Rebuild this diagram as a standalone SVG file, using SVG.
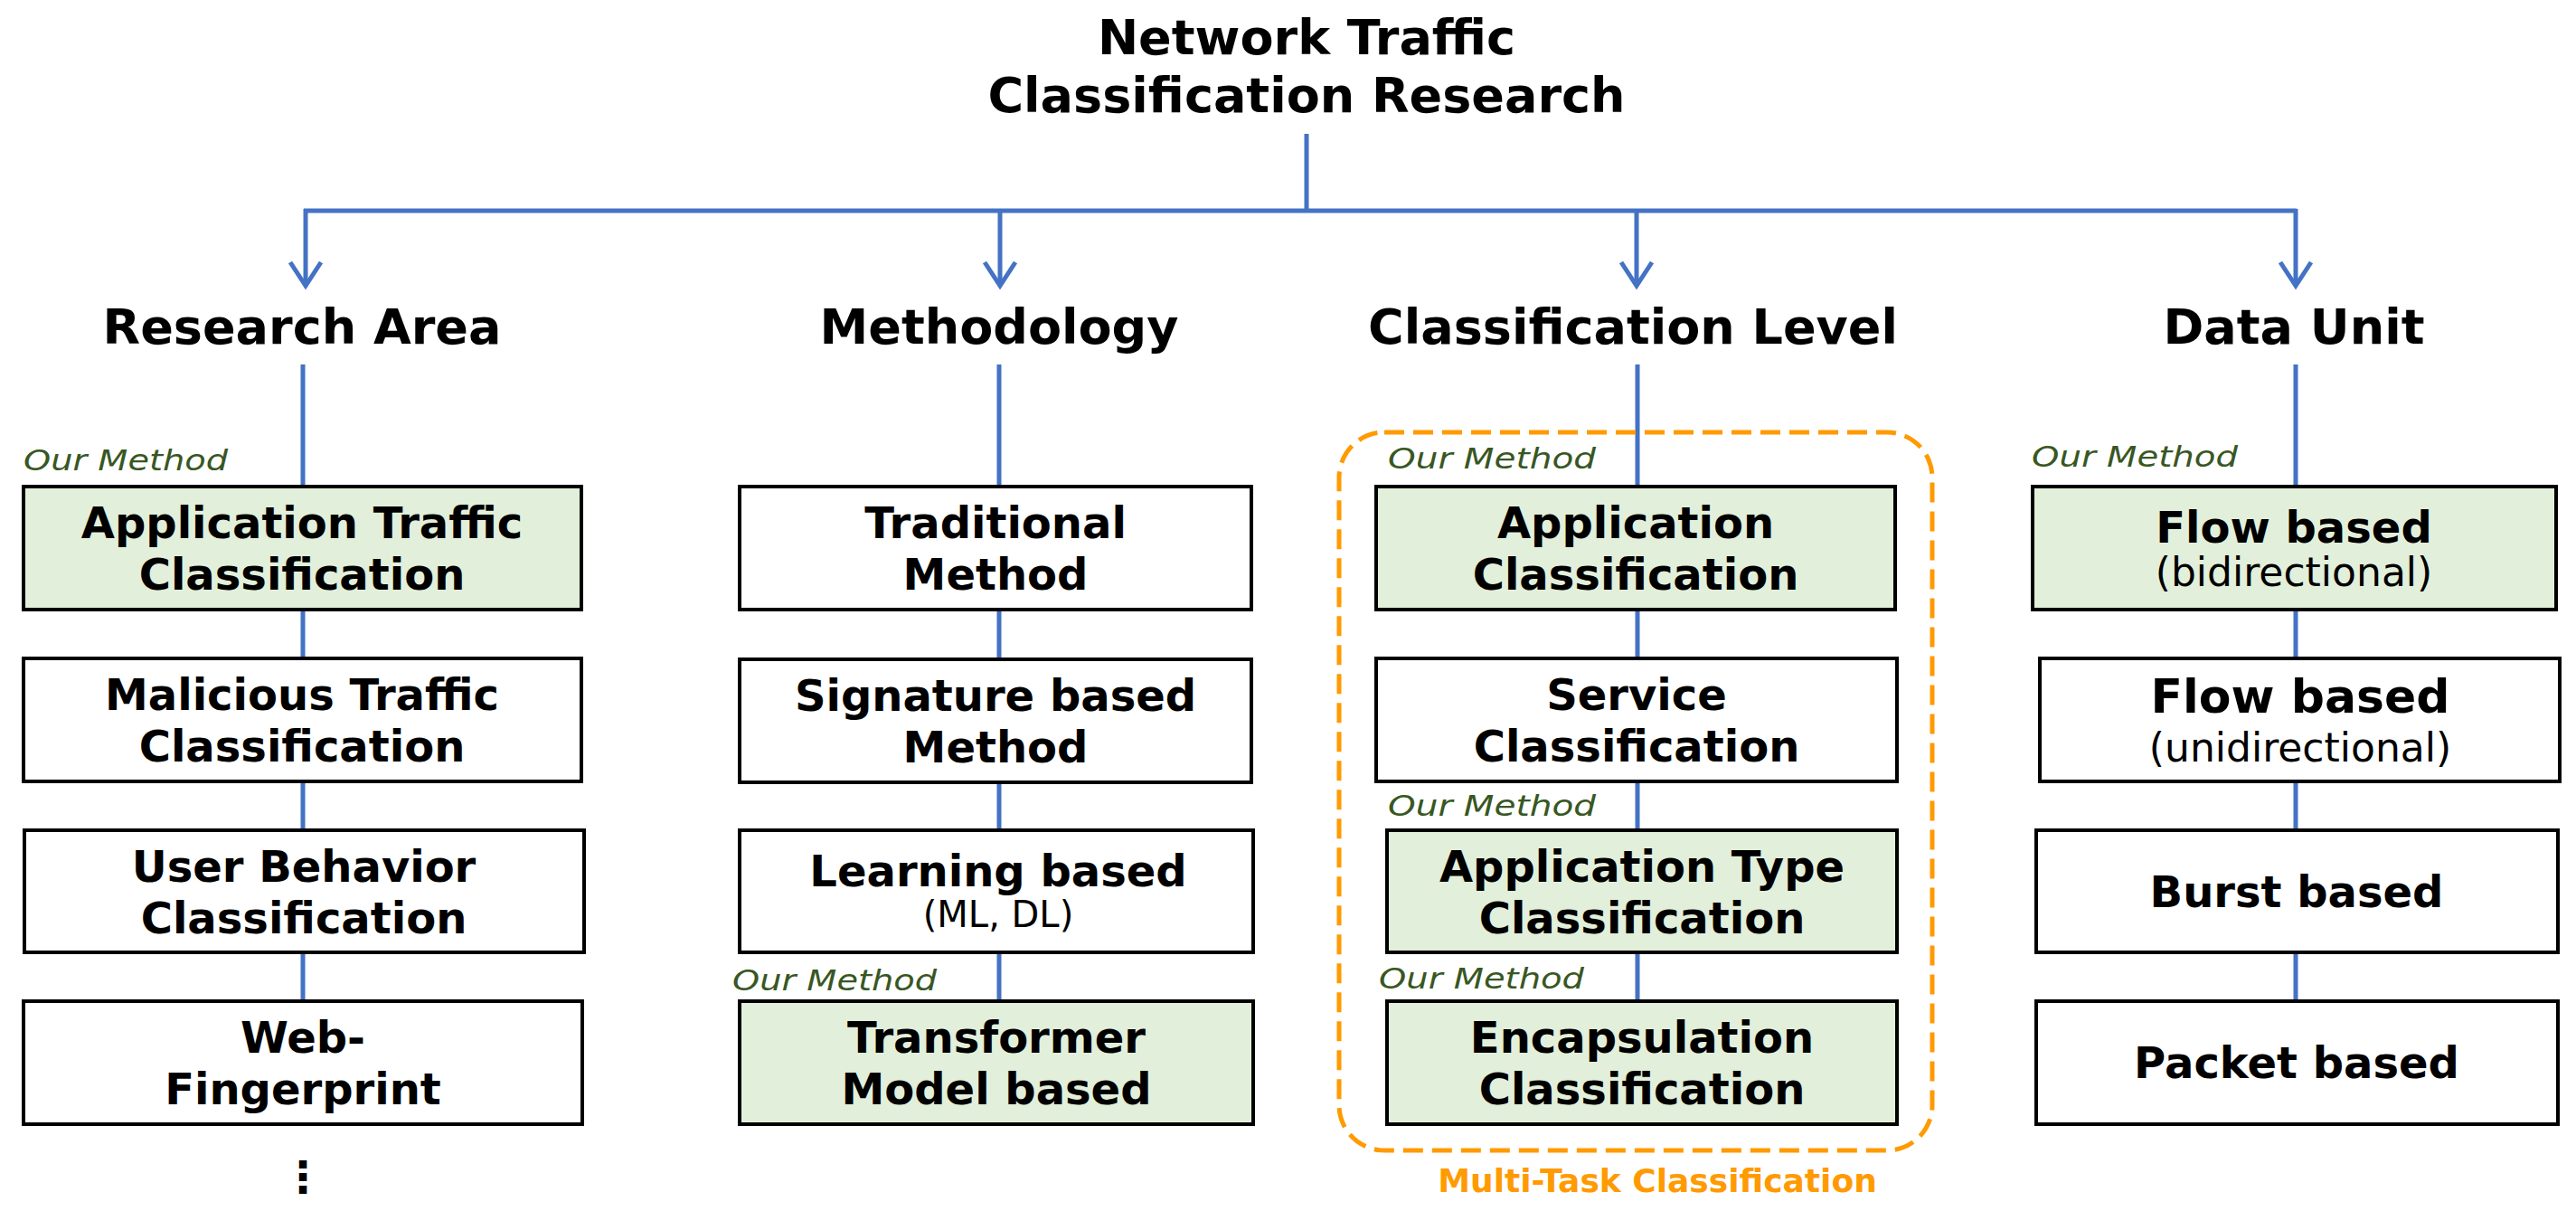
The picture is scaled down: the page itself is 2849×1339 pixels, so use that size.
<svg xmlns="http://www.w3.org/2000/svg" width="2849" height="1339" viewBox="0 0 2849 1339">
<style>
.t{font-family:"DejaVu Sans","Liberation Sans",sans-serif;font-weight:bold;fill:#000;text-anchor:middle}
.h{font-size:54px}
.b{font-size:48px}
.s{font-family:"DejaVu Sans","Liberation Sans",sans-serif;font-weight:normal;fill:#000;text-anchor:middle;font-size:44px}
.om{font-family:"DejaVu Sans","Liberation Sans",sans-serif;font-style:italic;font-size:32px;fill:#385723}
.box{fill:#fff;stroke:#000;stroke-width:4}
.g{fill:#E2EFDA}
.ln{stroke:#4472C4;stroke-width:5;fill:none}
.ah{stroke:#4472C4;stroke-width:5;fill:none;stroke-linejoin:miter;stroke-linecap:butt}
</style>
<rect width="2849" height="1339" fill="#fff"/>
<g id="title">
<text class="t h" x="1445" y="60">Network Traffic</text>
<text class="t h" x="1445" y="124">Classification Research</text>
</g>
<g id="connectors">
<path class="ln" d="M1445 148 V233 M336 233 H2540 M338 231 V314 M1106 231 V314 M1810 231 V314 M2539 231 V314"/>
<path class="ah" d="M321 290 L338 316 L355 290 M1089 290 L1106 316 L1123 290 M1793 290 L1810 316 L1827 290 M2522 290 L2539 316 L2556 290"/>
<path class="ln" d="M335 403 V1107 M1105 403 V1107 M1811 403 V1107 M2539 403 V1107"/>
</g>
<g id="header-research-area"><text class="t h" x="334" y="380">Research Area</text></g>
<g id="header-methodology"><text class="t h" x="1105" y="380">Methodology</text></g>
<g id="header-classification-level"><text class="t h" x="1806" y="380">Classification Level</text></g>
<g id="header-data-unit"><text class="t h" x="2537" y="380">Data Unit</text></g>
<g id="multitask-group">
<rect x="1481" y="478" width="656" height="794" rx="50" ry="50" fill="none" stroke="#FF9A00" stroke-width="5" stroke-dasharray="22 10"/>
<text class="t" x="1833" y="1318" style="font-size:36px;fill:#FF9A00">Multi-Task Classification</text>
</g>
<g id="ra-app">
<text class="om" x="26" y="520" textLength="226" lengthAdjust="spacingAndGlyphs">Our Method</text>
<rect class="box g" x="26" y="538" width="617" height="136"/>
<text class="t b" x="334" y="595">Application Traffic</text>
<text class="t b" x="334" y="652">Classification</text>
</g>
<g id="ra-malicious">
<rect class="box" x="26" y="728" width="617" height="136"/>
<text class="t b" x="334" y="785">Malicious Traffic</text>
<text class="t b" x="334" y="842">Classification</text>
</g>
<g id="ra-user">
<rect class="box" x="27" y="918" width="619" height="135"/>
<text class="t b" x="336" y="975">User Behavior</text>
<text class="t b" x="336" y="1032">Classification</text>
</g>
<g id="ra-web">
<rect class="box" x="26" y="1107" width="618" height="136"/>
<text class="t b" x="335" y="1164">Web-</text>
<text class="t b" x="335" y="1221">Fingerprint</text>
</g>
<g id="ra-more"><text class="t" x="335" y="1318" style="font-size:48px">⋮</text></g>
<g id="me-traditional">
<rect class="box" x="818" y="538" width="566" height="136"/>
<text class="t b" x="1101" y="595">Traditional</text>
<text class="t b" x="1101" y="652">Method</text>
</g>
<g id="me-signature">
<rect class="box" x="818" y="729" width="566" height="136"/>
<text class="t b" x="1101" y="786">Signature based</text>
<text class="t b" x="1101" y="843">Method</text>
</g>
<g id="me-learning">
<rect class="box" x="818" y="918" width="568" height="135"/>
<text class="t b" x="1104" y="980">Learning based</text>
<text class="s" x="1104" y="1025" style="font-size:40px">(ML, DL)</text>
</g>
<g id="me-transformer">
<text class="om" x="810" y="1095" textLength="226" lengthAdjust="spacingAndGlyphs">Our Method</text>
<rect class="box g" x="818" y="1107" width="568" height="136"/>
<text class="t b" x="1102" y="1164">Transformer</text>
<text class="t b" x="1102" y="1221">Model based</text>
</g>
<g id="cl-app">
<text class="om" x="1535" y="518" textLength="230" lengthAdjust="spacingAndGlyphs">Our Method</text>
<rect class="box g" x="1522" y="538" width="574" height="136"/>
<text class="t b" x="1809" y="595">Application</text>
<text class="t b" x="1809" y="652">Classification</text>
</g>
<g id="cl-service">
<rect class="box" x="1522" y="728" width="576" height="136"/>
<text class="t b" x="1810" y="785">Service</text>
<text class="t b" x="1810" y="842">Classification</text>
</g>
<g id="cl-apptype">
<text class="om" x="1535" y="902" textLength="230" lengthAdjust="spacingAndGlyphs">Our Method</text>
<rect class="box g" x="1534" y="918" width="564" height="135"/>
<text class="t b" x="1816" y="975">Application Type</text>
<text class="t b" x="1816" y="1032">Classification</text>
</g>
<g id="cl-encap">
<text class="om" x="1525" y="1093" textLength="227" lengthAdjust="spacingAndGlyphs">Our Method</text>
<rect class="box g" x="1534" y="1107" width="564" height="136"/>
<text class="t b" x="1816" y="1164">Encapsulation</text>
<text class="t b" x="1816" y="1221">Classification</text>
</g>
<g id="du-flow-bi">
<text class="om" x="2247" y="516" textLength="228" lengthAdjust="spacingAndGlyphs">Our Method</text>
<rect class="box g" x="2248" y="538" width="579" height="136"/>
<text class="t b" x="2537" y="600">Flow based</text>
<text class="s" x="2537" y="648">(bidirectional)</text>
</g>
<g id="du-flow-uni">
<rect class="box" x="2256" y="728" width="575" height="136"/>
<text class="t" x="2544" y="788" style="font-size:52px">Flow based</text>
<text class="s" x="2544" y="842">(unidirectional)</text>
</g>
<g id="du-burst">
<rect class="box" x="2252" y="918" width="577" height="135"/>
<text class="t b" x="2540" y="1003">Burst based</text>
</g>
<g id="du-packet">
<rect class="box" x="2252" y="1107" width="577" height="136"/>
<text class="t b" x="2540" y="1192">Packet based</text>
</g>
</svg>
